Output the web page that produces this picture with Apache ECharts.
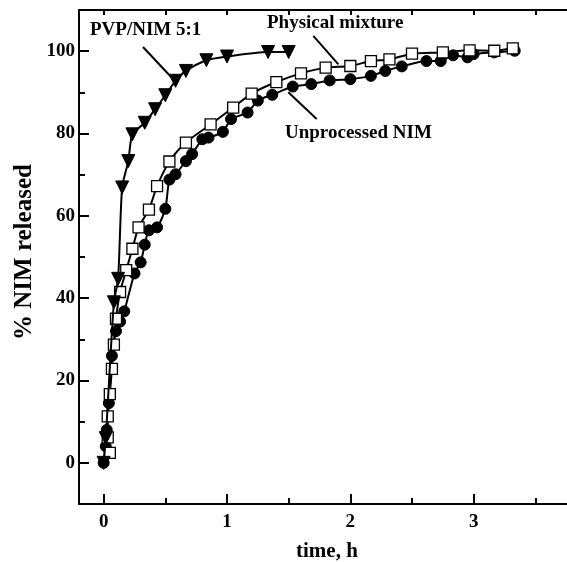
<!DOCTYPE html>
<html>
<head>
<meta charset="utf-8">
<script src="https://cdn.jsdelivr.net/npm/echarts@6/dist/echarts.min.js"></script>
<style>
html,body{margin:0;padding:0;background:#fff;}
#chart{width:567px;height:562px;}
</style>
</head>
<body>
<div id="chart"></div>
<script>
// ---- data (time in h, % NIM released) ----
var pvpTime = [0, 0.017, 0.083, 0.117, 0.15, 0.2, 0.233, 0.333, 0.417, 0.5, 0.583, 0.667, 0.833, 1.0, 1.333, 1.5];
var pvpRel  = [0, 6, 39, 44.7, 66.9, 73.3, 79.8, 82.6, 85.9, 89.3, 92.8, 95.2, 97.8, 98.7, 99.8, 99.8];

var pmTime = [0.05, 0.033, 0.033, 0.05, 0.067, 0.083, 0.1, 0.133, 0.183, 0.233, 0.283, 0.367, 0.433, 0.533, 0.667, 0.867, 1.05, 1.2, 1.4, 1.6, 1.8, 2.0, 2.167, 2.317, 2.5, 2.75, 2.967, 3.167, 3.317];
var pmRel  = [2.4, 6.2, 11.3, 16.7, 22.8, 28.7, 35, 41.5, 46.8, 52, 57.2, 61.5, 67.2, 73.2, 77.8, 82.2, 86.3, 89.7, 92.5, 94.6, 96, 96.4, 97.6, 98, 99.4, 99.7, 100.2, 100.1, 100.7];

var unTime = [0, 0.017, 0.025, 0.042, 0.067, 0.1, 0.133, 0.167, 0.25, 0.3, 0.333, 0.367, 0.433, 0.5, 0.533, 0.583, 0.667, 0.717, 0.8, 0.85, 0.967, 1.033, 1.167, 1.25, 1.367, 1.533, 1.683, 1.833, 2.0, 2.167, 2.283, 2.417, 2.617, 2.733, 2.833, 2.95, 3.0, 3.167, 3.333];
var unRel  = [0, 4, 8, 14.5, 26, 32, 34.3, 36.8, 46, 48.7, 53, 56.5, 57.2, 61.7, 68.8, 70.1, 73.3, 75, 78.6, 79, 80.4, 83.5, 85.1, 88, 89.4, 91.4, 92, 92.9, 93.2, 94, 95.2, 96.3, 97.6, 97.6, 99, 98.5, 99.3, 99.7, 100.1];

var xMajorTicks = [0, 1, 2, 3];
var xMinorTicks = [0.5, 1.5, 2.5, 3.5];
var yMajorTicks = [0, 20, 40, 60, 80, 100];
var yMinorTicks = [10, 30, 50, 70, 90];

// annotation arrows [fromX, fromY, toX, toY] in data units
var arrowPVP = [0.319, 101, 0.551, 93.6];
var arrowPM  = [1.70, 103.7, 1.903, 96.8];
var arrowUN  = [1.727, 83.5, 1.497, 90.0];

function zip(a, b){ return a.map(function(v,i){ return [v, b[i]]; }); }

var FONT = '"Liberation Serif", "DejaVu Serif", serif';
var X_MIN = -0.2, X_MAX = 4, Y_MIN = -10, Y_MAX = 110;

function xAxisDef(pos, ticks, len, showLabel, showLine){
  return {
    type: 'value', position: pos, min: X_MIN, max: X_MAX,
    gridIndex: 0,
    axisLine: {show: showLine, onZero: false, lineStyle: {color: '#000', width: 2}},
    axisTick: {show: true, inside: true, length: len, customValues: ticks, lineStyle: {color: '#000', width: 2}},
    axisLabel: {show: showLabel, customValues: xMajorTicks, color: '#000', fontFamily: FONT, fontWeight: 'bold', fontSize: 19, margin: 9},
    splitLine: {show: false}
  };
}
function yAxisDef(ticks, len, showLabel, showLine){
  return {
    type: 'value', position: 'left', min: Y_MIN, max: Y_MAX,
    gridIndex: 0,
    axisLine: {show: showLine, onZero: false, lineStyle: {color: '#000', width: 2}},
    axisTick: {show: true, inside: true, length: len, customValues: ticks, lineStyle: {color: '#000', width: 2}},
    axisLabel: {show: showLabel, customValues: yMajorTicks, color: '#000', fontFamily: FONT, fontWeight: 'bold', fontSize: 19, margin: 4},
    splitLine: {show: false}
  };
}

function arrowLine(a){
  return {
    type: 'line', xAxisIndex: 0, yAxisIndex: 0, data: [], silent: true,
    markLine: {
      silent: true, animation: false,
      symbol: ['none', 'arrow'], symbolSize: [0, 12],
      lineStyle: {color: '#000', width: 2, type: 'solid'},
      label: {show: false},
      data: [[{coord: [a[0], a[1]]}, {coord: [a[2], a[3]]}]]
    }
  };
}

var chart = echarts.init(document.getElementById('chart'), null, {renderer: 'canvas'});
chart.setOption({
  animation: false,
  backgroundColor: '#fff',
  grid: {left: 79, top: 10, width: 518, height: 494, containLabel: false, outerBoundsMode: 'none'},
  xAxis: [
    xAxisDef('bottom', xMajorTicks, 10, true, true),
    xAxisDef('bottom', xMinorTicks, 6, false, false),
    xAxisDef('top', xMajorTicks.concat(xMinorTicks), 5, false, true)
  ],
  yAxis: [
    yAxisDef(yMajorTicks, 10, true, true),
    yAxisDef(yMinorTicks, 6, false, false)
  ],
  graphic: [
    {type: 'text', left: 90, top: 21, style: {text: 'PVP/NIM 5:1', fill: '#000', font: 'bold 19px ' + FONT}},
    {type: 'text', left: 267, top: 14, style: {text: 'Physical mixture', fill: '#000', font: 'bold 19px ' + FONT}},
    {type: 'text', left: 285, top: 124, style: {text: 'Unprocessed NIM', fill: '#000', font: 'bold 19px ' + FONT}},
    {type: 'text', left: 296, top: 541, style: {text: 'time, h', fill: '#000', font: 'bold 21px ' + FONT}},
    {type: 'text', x: 12, y: 340, rotation: Math.PI / 2, style: {text: '% NIM released', fill: '#000', font: 'bold 25px ' + FONT}}
  ],
  series: [
    {
      name: 'Unprocessed NIM', type: 'line', data: zip(unTime, unRel), smooth: 0.25,
      symbol: 'circle', symbolSize: 11,
      itemStyle: {color: '#000', borderColor: '#000', borderWidth: 1},
      lineStyle: {color: '#000', width: 2}, z: 3
    },
    {
      name: 'Physical mixture', type: 'line', data: zip(pmTime, pmRel), smooth: 0.25,
      symbol: 'rect', symbolSize: 11,
      itemStyle: {color: '#fff', borderColor: '#000', borderWidth: 1.3},
      lineStyle: {color: '#000', width: 2}, z: 4
    },
    {
      name: 'PVP/NIM 5:1', type: 'line', data: zip(pvpTime, pvpRel), smooth: 0.25,
      symbol: 'triangle', symbolRotate: 180, symbolSize: 13,
      itemStyle: {color: '#000', borderColor: '#000', borderWidth: 1},
      lineStyle: {color: '#000', width: 2}, z: 5
    },
    arrowLine(arrowPVP),
    arrowLine(arrowPM),
    arrowLine(arrowUN)
  ]
});
</script>
</body>
</html>
